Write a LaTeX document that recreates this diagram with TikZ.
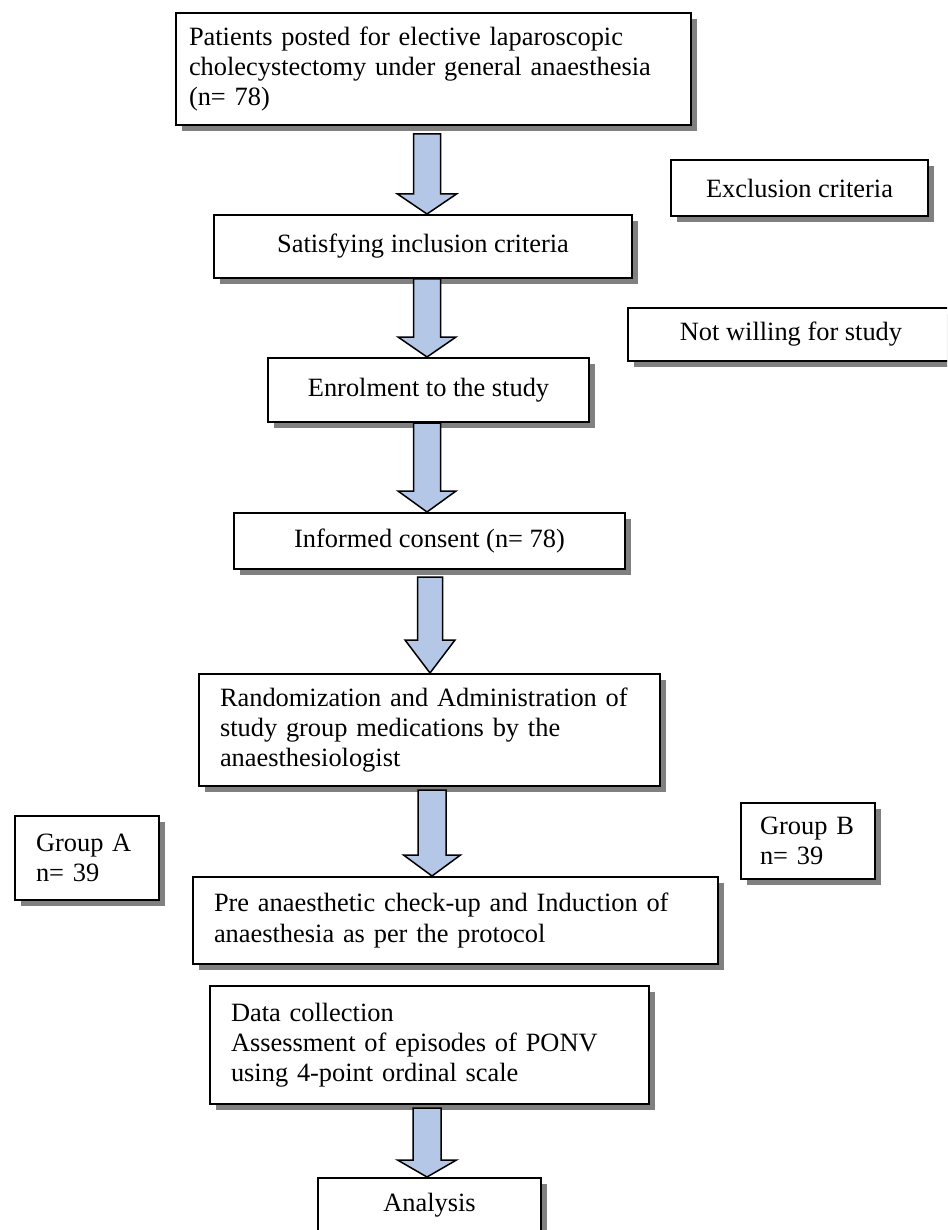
\documentclass[tikz,border=0pt]{standalone}
\usepackage{fontspec}
\setmainfont{Liberation Serif}
\usetikzlibrary{calc,shadows}
\definecolor{arrowblue}{RGB}{180,199,231}
\definecolor{shadowgray}{RGB}{128,128,128}
\newcommand{\tfont}{\fontsize{26.4}{30.2}\selectfont}
\tikzset{
  box/.style={draw, line width=2pt, fill=white, font=\tfont, inner sep=0pt, anchor=north west,
    general shadow={fill=shadowgray, shadow xshift=6pt, shadow yshift=-6pt}},
  lbox/.style={box, align=left, inner xsep=#1},
  barr/.style={draw=black, line width=1.5pt, fill=arrowblue, line join=miter}
}
% from, to, x centre, half shaft, half head, head length, gap below source
\newcommand{\barrow}[7]{%
  \draw[barr] let \p1=(#1.south), \p2=(#2.north) in
    ({#3pt-#4pt},{\y1-#7pt}) -- ({#3pt+#4pt},{\y1-#7pt}) -- ({#3pt+#4pt},{\y2+#6pt})
    -- ({#3pt+#5pt},{\y2+#6pt}) -- (#3pt,\y2) -- ({#3pt-#5pt},{\y2+#6pt})
    -- ({#3pt-#4pt},{\y2+#6pt}) -- cycle;}
\begin{document}
\begin{tikzpicture}[x=1pt,y=-1pt]
\useasboundingbox (0,0) rectangle (947,1230);
\clip (0,0) rectangle (947,1230);
\fill[white] (0,0) rectangle (947,1230);

\node[lbox=13pt, minimum width=515pt, minimum height=112pt, text width=489pt] (pat) at (175,12)
  {Patients posted for elective laparoscopic\\cholecystectomy under general anaesthesia\\(n= 78)};
\node[box, minimum width=257pt, minimum height=56pt, align=center] (excl) at (670,159) {Exclusion criteria};
\node[box, minimum width=418pt, minimum height=63pt, align=center] (sat) at (213,214) {Satisfying inclusion criteria};
\node[box, minimum width=326pt, minimum height=53pt, align=center] (notw) at (627,307) {Not willing for study};
\node[box, minimum width=321pt, minimum height=64pt, align=center] (enr) at (267,357) {Enrolment to the study};
\node[box, minimum width=391pt, minimum height=56pt, align=center] (cons) at (233,512) {Informed consent (n= 78)};
\node[lbox=21pt, minimum width=461pt, minimum height=112pt, text width=419pt] (rand) at (198,673)
  {Randomization and Administration of\\study group medications by the\\anaesthesiologist};
\node[lbox=21pt, minimum width=144pt, minimum height=84pt, text width=102pt] (ga) at (14,815) {Group A\\n= 39};
\node[lbox=19pt, minimum width=134pt, minimum height=76pt, text width=96pt] (gb) at (740,802) {Group B\\n= 39};
\node[lbox=21pt, minimum width=525pt, minimum height=87pt, text width=483pt] (pre) at (192,876)
  {Pre anaesthetic check-up and Induction of\\anaesthesia as per the protocol};
\node[lbox=21pt, minimum width=439pt, minimum height=118pt, text width=397pt] (data) at (209,985)
  {Data collection\\Assessment of episodes of PONV\\using 4-point ordinal scale};
\node[box, minimum width=223pt, minimum height=54pt, align=center] (ana) at (317,1177) {Analysis};

\barrow{pat}{sat}{427}{13.5}{29.5}{20}{8}
\barrow{sat}{enr}{427}{13.5}{29}{20}{0}
\barrow{enr}{cons}{427}{13.5}{29}{21}{0}
\barrow{cons}{rand}{430}{12.5}{25}{33}{7}
\barrow{rand}{pre}{432}{14}{28.5}{21}{3}
\barrow{data}{ana}{427}{14}{29.5}{17}{3}
\end{tikzpicture}
\end{document}
